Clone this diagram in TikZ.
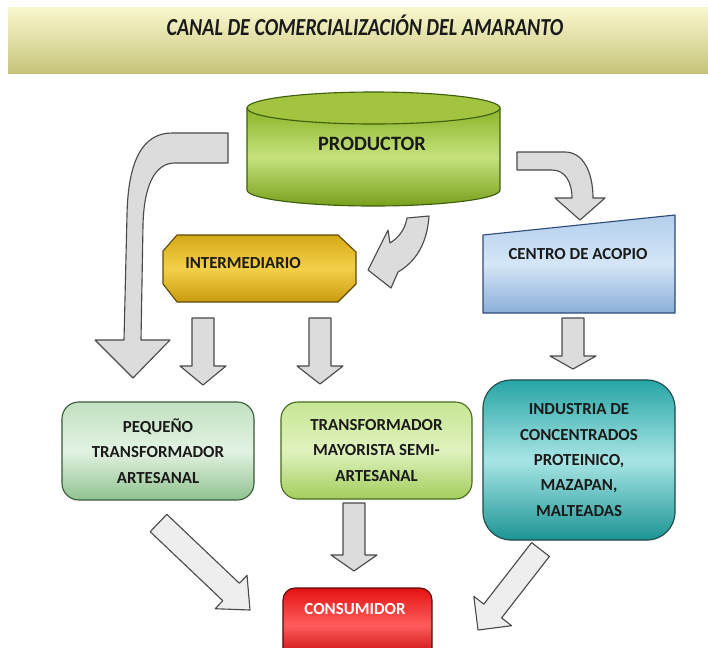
\documentclass[tikz,border=0pt]{standalone}
\usepackage{fontspec}
\setmainfont{Carlito}

\definecolor{flechagris}{HTML}{DCDCDC}
\definecolor{flechaclaro}{HTML}{EEEEEE}
\definecolor{flechaborde}{HTML}{4A4A4A}
\definecolor{tituloA}{HTML}{FAF8CE}
\definecolor{tituloB}{HTML}{C6C47A}
\definecolor{prodA}{HTML}{8BB427}
\definecolor{prodB}{HTML}{C6E27E}
\definecolor{prodC}{HTML}{78A01B}
\definecolor{prodTapa}{HTML}{A2C43E}
\definecolor{prodBorde}{HTML}{3F5E0E}
\definecolor{interA}{HTML}{D6A816}
\definecolor{interB}{HTML}{F3D04A}
\definecolor{interC}{HTML}{C99B0E}
\definecolor{interBorde}{HTML}{5E4A08}
\definecolor{acopioA}{HTML}{B4CFEC}
\definecolor{acopioB}{HTML}{D4E6F7}
\definecolor{acopioC}{HTML}{8AAED8}
\definecolor{acopioBorde}{HTML}{2E4A78}
\definecolor{pequeA}{HTML}{C2E1C2}
\definecolor{pequeB}{HTML}{E2F2E2}
\definecolor{pequeC}{HTML}{90C290}
\definecolor{pequeBorde}{HTML}{3A5A3A}
\definecolor{mayorA}{HTML}{C6E694}
\definecolor{mayorB}{HTML}{E0F2BE}
\definecolor{mayorC}{HTML}{A2CE5C}
\definecolor{mayorBorde}{HTML}{4A6A1E}
\definecolor{indA}{HTML}{27A5A5}
\definecolor{indB}{HTML}{A8E5E5}
\definecolor{indC}{HTML}{1C9494}
\definecolor{indBorde}{HTML}{1F4A4A}
\definecolor{consA}{HTML}{E41212}
\definecolor{consB}{HTML}{FF5C5C}
\definecolor{consC}{HTML}{BE0000}
\definecolor{consBorde}{HTML}{5A0A0A}
\definecolor{textooscuro}{HTML}{1A1A1A}

\begin{document}
\begin{tikzpicture}[x = 0.025cm, y = -0.025cm, line join = round,
    flecha/.style = {draw = flechaborde, fill = flechagris, line width = 0.8pt},
    rotulo/.style = {font = \bfseries\fontsize{12}{18}\selectfont, text = textooscuro, align = center},
    caja/.style = {rotulo, draw = #1, line width = 0.8pt, inner sep = 0pt}]
    %
    \useasboundingbox (0, 0) rectangle (708, 647);
    \begin{scope}
        \clip (0, 0) rectangle (708, 647);

        % titulo
        \fill [top color = tituloA, bottom color = tituloB] (8, 7) rectangle (708, 73);
        \node [anchor = base, font = \bfseries\itshape\fontsize{17.4}{20}\selectfont, text = textooscuro] (titulo) at (365, 35)
            {\scalebox{0.82}[1]{CANAL DE COMERCIALIZACIÓN DEL AMARANTO}};

        % productor
        \path [draw = prodBorde, line width = 0.8pt, top color = prodA, bottom color = prodC, middle color = prodB]
            (247, 108) -- (247, 190) .. controls (247, 198.8) and (303.6, 206) .. (373.5, 206)
            .. controls (443.4, 206) and (500, 198.8) .. (500, 190) -- (500, 108) -- cycle;
        \draw [draw = prodBorde, line width = 0.8pt, fill = prodTapa] (373.5, 108) ellipse [x radius = 126.5, y radius = 16];
        \node [rotulo, font = \bfseries\fontsize{14.5}{16}\selectfont] (productor) at (372, 144) {PRODUCTOR};

        % intermediario
        \path [draw = interBorde, line width = 0.8pt, top color = interA, bottom color = interC, middle color = interB]
            (177, 235) -- (338, 235) -- (356, 252) -- (356, 284) -- (338, 302) -- (177, 302) -- (163, 284) -- (163, 251) -- cycle;
        \node [rotulo] (intermediario) at (243, 263) {INTERMEDIARIO};

        % centro de acopio
        \path [draw = acopioBorde, line width = 0.8pt, top color = acopioA, bottom color = acopioC, middle color = acopioB]
            (483, 235) -- (675, 215) -- (675, 313) -- (483, 313) -- cycle;
        \node [rotulo] (acopio) at (578, 254) {CENTRO DE ACOPIO};

        % transformadores, industria, consumidor
        \node [caja = pequeBorde, rounded corners = 0.42cm, minimum width = 4.8cm, minimum height = 2.45cm,
            top color = pequeA, bottom color = pequeC, middle color = pequeB] (pequeno) at (158, 451)
            {PEQUEÑO\\TRANSFORMADOR\\ARTESANAL};
        \node [caja = mayorBorde, rounded corners = 0.42cm, minimum width = 4.775cm, minimum height = 2.425cm,
            top color = mayorA, bottom color = mayorC, middle color = mayorB] (mayorista) at (376.5, 450.5)
            {TRANSFORMADOR\\MAYORISTA SEMI-\\ARTESANAL};
        \node [caja = indBorde, rounded corners = 0.7cm, minimum width = 4.8cm, minimum height = 4cm,
            top color = indA, bottom color = indC, middle color = indB] (industria) at (579, 460)
            {INDUSTRIA DE\\CONCENTRADOS\\PROTEINICO,\\MAZAPAN,\\MALTEADAS};
        \node [caja = consBorde, rounded corners = 0.3cm, minimum width = 3.725cm, minimum height = 1.85cm,
            top color = consA, bottom color = consC, middle color = consB] (consumidor) at (357.5, 625) {};
        \node [rotulo, text = white] (consumidortxt) at (355, 609) {CONSUMIDOR};

        % flechas rectas
        \foreach \cx/\ytop/\yhead/\ytip in {203/318/366/385, 320/318/366/384, 573/318/356/369, 354/503/555/571}
        {
            \draw [flecha] (\cx - 11, \ytop) -- (\cx + 11, \ytop) -- (\cx + 11, \yhead) -- (\cx + 23, \yhead)
                -- (\cx, \ytip) -- (\cx - 23, \yhead) -- (\cx - 11, \yhead) -- cycle;
        }
        \draw [flecha, fill = flechaclaro] (166.8, 514.3) -- (239.4, 583.3) -- (247, 575.3) -- (250, 610)
            -- (215.2, 608.7) -- (222.8, 600.7) -- (150.2, 531.7) -- cycle;
        \draw [flecha, fill = flechaclaro] (549.4, 556.4) -- (501.6, 617.9) -- (511.6, 625.7) -- (478, 630)
            -- (473.8, 596.3) -- (483.8, 604.1) -- (531.6, 542.6) -- cycle;

        % flechas curvas
        \draw [flecha] (228, 133) -- (172, 133) .. controls (143, 133) and (128, 160) .. (127, 215) -- (124, 340)
            -- (95, 340) -- (133, 378) -- (170, 340) -- (141, 340) -- (143, 225)
            .. controls (144, 185) and (155, 163) .. (175, 163) -- (228, 163) -- cycle;
        \draw [flecha] (407, 218) -- (429, 216) .. controls (427, 245) and (415, 262) .. (398, 272) -- (391, 288)
            -- (368, 270) -- (388, 230) -- (390, 243) .. controls (398, 238) and (405, 230) .. (407, 218) -- cycle;
        \draw [flecha] (517, 152) -- (565, 152) .. controls (583, 152) and (593, 172) .. (593, 198) -- (605, 198)
            -- (580, 220) -- (555, 198) -- (572, 198) .. controls (572, 182) and (565, 170) .. (552, 170) -- (517, 170) -- cycle;
    \end{scope}
\end{tikzpicture}
\end{document}
